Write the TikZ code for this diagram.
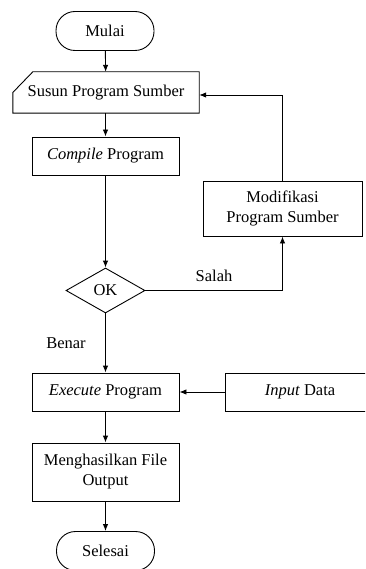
\documentclass[tikz,border=0pt]{standalone}
\usepackage{fontspec}
\setmainfont{Liberation Serif}
\usetikzlibrary{shapes.geometric,arrows.meta,calc}
\begin{document}
\begin{tikzpicture}[x=1pt,y=-1pt,
  every node/.style={font=\fontsize{16.5}{20}\selectfont},
  base/.style={line width=0.9pt},
  proc/.style={base,draw,rectangle,inner sep=0pt,align=center},
  term/.style={base,draw,rectangle,rounded corners=19pt,inner sep=0pt,minimum width=98pt,minimum height=39pt},
  decis/.style={base,draw,diamond,inner sep=0pt,minimum width=79pt,minimum height=45pt},
  conn/.style={base,-{Latex[length=7pt,width=5.5pt]}},
  lbl/.style={inner sep=0pt}
]
\useasboundingbox (0,0) rectangle (365,569);
\clip (0,0) rectangle (365,569);
\node[term] (mulai) at (105,31) {Mulai};
\node[inner sep=0pt,minimum width=186pt,minimum height=41pt] (susun) at (106,92.5) {Susun Program Sumber};
\draw[base] (susun.west) -- ([xshift=20pt]susun.north west) -- (susun.north east) -- (susun.south east) -- (susun.south west) -- cycle;
\node[proc,minimum width=147pt,minimum height=38pt] (compile) at (105.5,156) {\textit{Compile} Program};
\node[proc,minimum width=159pt,minimum height=55pt] (modif) at (282.5,208.5) {Modifikasi\\Program Sumber};
\node[decis] (ok) at (105.5,290.5) {OK};
\node[lbl] (salah) at (214,276) {Salah};
\node[lbl] (benar) at (66,343) {Benar};
\node[proc,minimum width=147pt,minimum height=38pt] (exec) at (105.5,392) {\textit{Execute} Program};
\node[proc,minimum width=150pt,minimum height=38pt] (input) at (300,392) {\textit{Input} Data};
\node[proc,minimum width=147pt,minimum height=58pt] (output) at (105.5,472) {Menghasilkan File\\Output};
\node[term] (selesai) at (105.5,551) {Selesai};
\draw[conn] (mulai) -- (susun);
\draw[conn] (susun.south -| compile.north) -- (compile);
\draw[conn] (compile) -- (ok);
\draw[conn] (ok.east) -| (modif.south);
\draw[conn] (modif.north) |- ([yshift=-2.5pt]susun.east);
\draw[conn] (ok) -- (exec);
\draw[conn] (input) -- (exec);
\draw[conn] (exec) -- (output);
\draw[conn] (output) -- (selesai);
\end{tikzpicture}
\end{document}
